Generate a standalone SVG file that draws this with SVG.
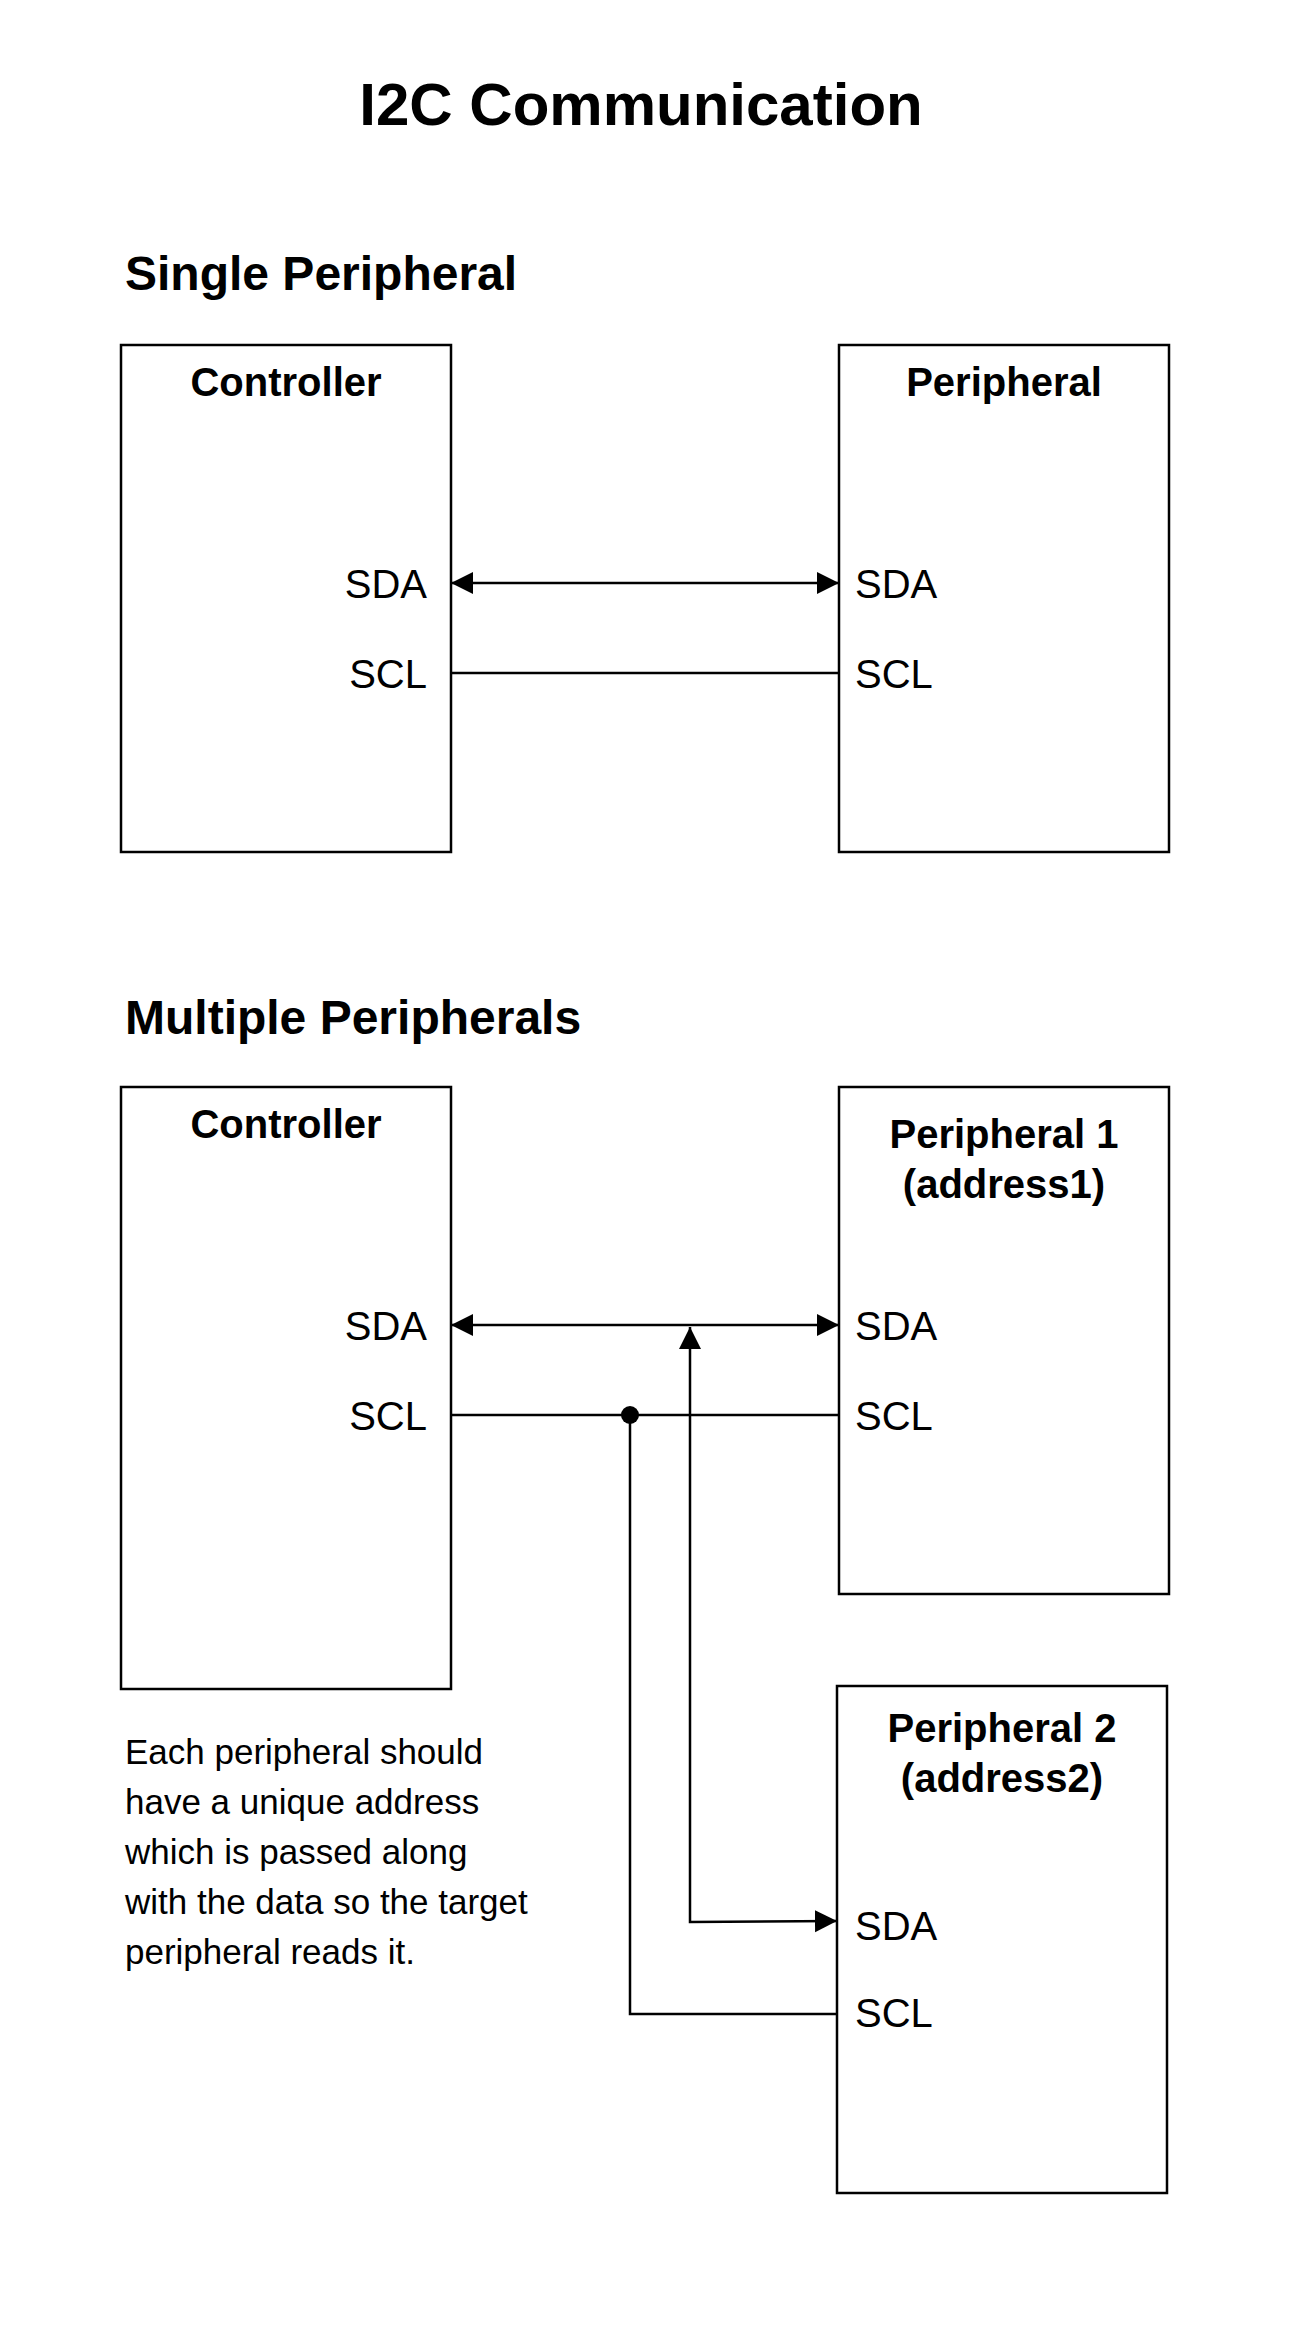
<svg xmlns="http://www.w3.org/2000/svg" width="1290" height="2328" viewBox="0 0 1290 2328">
<style>
text{font-family:"Liberation Sans",Arial,sans-serif;fill:#000}
.b{font-weight:bold}
.box{fill:#fff;stroke:#000;stroke-width:2.5}
.w{fill:none;stroke:#000;stroke-width:2.5}
</style>
<defs>
<marker id="ah" markerUnits="userSpaceOnUse" markerWidth="24" markerHeight="24" viewBox="0 0 24 24" refX="22" refY="12" orient="auto-start-reverse"><path d="M0,1 L22,12 L0,23 Z" fill="#000"/></marker>
</defs>
<rect width="1290" height="2328" fill="#fff"/>
<text x="641" y="125" font-size="60" class="b" text-anchor="middle">I2C Communication</text>
<text x="125" y="290" font-size="48" class="b">Single Peripheral</text>
<text x="125" y="1034" font-size="48" class="b">Multiple Peripherals</text>
<g id="ctrl1"><rect class="box" x="121" y="345" width="330" height="507"/>
<text x="286" y="396" font-size="40" class="b" text-anchor="middle">Controller</text>
<text x="427" y="598" font-size="40" text-anchor="end">SDA</text>
<text x="427" y="688" font-size="40" text-anchor="end">SCL</text></g>
<g id="per1"><rect class="box" x="839" y="345" width="330" height="507"/>
<text x="1004" y="396" font-size="40" class="b" text-anchor="middle">Peripheral</text>
<text x="855" y="598" font-size="40">SDA</text>
<text x="855" y="688" font-size="40">SCL</text></g>
<g id="ctrl2"><rect class="box" x="121" y="1087" width="330" height="602"/>
<text x="286" y="1138" font-size="40" class="b" text-anchor="middle">Controller</text>
<text x="427" y="1340" font-size="40" text-anchor="end">SDA</text>
<text x="427" y="1430" font-size="40" text-anchor="end">SCL</text></g>
<g id="perA"><rect class="box" x="839" y="1087" width="330" height="507"/>
<text x="1004" y="1148" font-size="40" class="b" text-anchor="middle">Peripheral 1</text>
<text x="1004" y="1198" font-size="40" class="b" text-anchor="middle">(address1)</text>
<text x="855" y="1340" font-size="40">SDA</text>
<text x="855" y="1430" font-size="40">SCL</text></g>
<g id="perB"><rect class="box" x="837" y="1686" width="330" height="507"/>
<text x="1002" y="1742" font-size="40" class="b" text-anchor="middle">Peripheral 2</text>
<text x="1002" y="1792" font-size="40" class="b" text-anchor="middle">(address2)</text>
<text x="855" y="1940" font-size="40">SDA</text>
<text x="855" y="2027" font-size="40">SCL</text></g>
<g id="note" font-size="35">
<text x="125" y="1764">Each peripheral should</text>
<text x="125" y="1814">have a unique address</text>
<text x="125" y="1864">which is passed along</text>
<text x="125" y="1914">with the data so the target</text>
<text x="125" y="1964">peripheral reads it.</text></g>
<g id="connectors">
<line class="w" x1="451" y1="583" x2="839" y2="583" marker-start="url(#ah)" marker-end="url(#ah)"/>
<line class="w" x1="451" y1="673" x2="839" y2="673"/>
<line class="w" x1="451" y1="1325" x2="839" y2="1325" marker-start="url(#ah)" marker-end="url(#ah)"/>
<line class="w" x1="451" y1="1415" x2="839" y2="1415"/>
<circle cx="630" cy="1415" r="9" fill="#000"/>
<polyline class="w" points="630,1415 630,2014 837,2014"/>
<polyline class="w" points="690,1327 690,1922 837,1921" marker-start="url(#ah)" marker-end="url(#ah)"/>
</g>
</svg>
